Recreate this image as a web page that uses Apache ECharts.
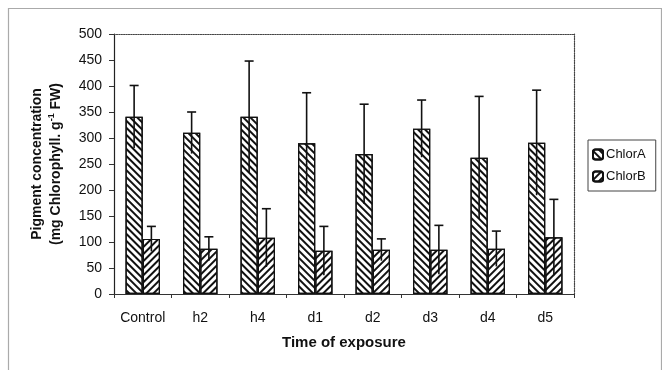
<!DOCTYPE html>
<html><head><meta charset="utf-8">
<script src="https://cdn.jsdelivr.net/npm/echarts@6/dist/echarts.min.js"></script>
<style>html,body{margin:0;padding:0;background:#fff}#c{width:662px;height:370px}</style>
</head><body><div id="c"></div>
<script>
const categories = ['Control','h2','h4','d1','d2','d3','d4','d5'];
const chlorA = [341, 310, 341, 290, 269, 318, 262, 291];
const chlorAErr = [60, 40, 107, 97, 96, 55, 118, 101];
const chlorB = [106, 87, 108, 83, 85, 85, 87, 109];
const chlorBErr = [24, 23, 56, 47, 21, 47, 34, 73];
const yTicks = [0, 50, 100, 150, 200, 250, 300, 350, 400, 450, 500];

const FONT = '"Liberation Sans", Arial, sans-serif';
const BAR_FRAC = 0.3;

function errSeries(vals, errs, side) {
  return {
    type: 'custom',
    z: 10,
    silent: true,
    data: vals.map((v, i) => [i, v - errs[i], v + errs[i]]),
    renderItem: function (params, api) {
      const band = api.size([1, 0])[0];
      const off = side * band * BAR_FRAC / 2;
      const lo = api.coord([api.value(0), api.value(1)]);
      const hi = api.coord([api.value(0), api.value(2)]);
      const x = lo[0] + off;
      const cap = 4.5;
      const st = { stroke: '#111', lineWidth: 1.6 };
      return {
        type: 'group',
        children: [
          { type: 'line', shape: { x1: x, y1: lo[1], x2: x, y2: hi[1] }, style: st },
          { type: 'line', shape: { x1: x - cap, y1: hi[1], x2: x + cap, y2: hi[1] }, style: st }
        ]
      };
    }
  };
}

const chart = echarts.init(document.getElementById('c'), null, { renderer: 'canvas' });
chart.setOption({
  animation: false,
  backgroundColor: '#fff',
  grid: { left: 114, right: 88, top: 34, bottom: 76 },
  graphic: [{
    type: 'rect', left: 6, top: 6, shape: { width: 653, height: 380 },
    style: { fill: 'none', stroke: '#aaa', lineWidth: 1.2 }, silent: true, z: -1
  }],
  legend: {
    orient: 'vertical', left: 588, top: 140, itemGap: 9,
    itemWidth: 10, itemHeight: 10,
    padding: [8, 10, 8, 4],
    borderColor: '#444', borderWidth: 1,
    textStyle: { fontFamily: FONT, fontSize: 13, color: '#111', padding: [0, 0, 0, -2] },
    data: ['ChlorA', 'ChlorB']
  },
  xAxis: [{
    type: 'category', data: categories,
    axisLine: { lineStyle: { color: '#333', width: 1 } },
    axisTick: { show: true, length: 4, interval: 0, lineStyle: { color: '#333' } },
    axisLabel: { fontFamily: FONT, fontSize: 14, color: '#111', margin: 17, interval: 0 },
    name: 'Time of exposure', nameLocation: 'middle', nameGap: 41,
    nameTextStyle: { fontFamily: FONT, fontSize: 15, fontWeight: 'bold', color: '#111' }
  }, {
    type: 'category', data: categories, position: 'top',
    axisLine: { show: true, onZero: false, lineStyle: { color: '#444', type: 'dotted', width: 1.2 } },
    axisTick: { show: false }, axisLabel: { show: false }
  }],
  yAxis: [{
    type: 'value', min: 0, max: 500, interval: 50,
    axisLine: { show: true, lineStyle: { color: '#222', width: 1.2 } },
    axisTick: { show: true, length: 5, lineStyle: { color: '#333' } },
    splitLine: { show: false },
    axisLabel: { fontFamily: FONT, fontSize: 14, color: '#111', margin: 12,
      formatter: v => yTicks.includes(v) ? String(v) : '' },
    name: '{b|Pigment concentration}\n{b|(mg Chlorophyll. g}{s|-1}{b| FW)}',
    nameLocation: 'middle', nameGap: 48, nameRotate: 90,
    nameTextStyle: {
      fontFamily: FONT, fontSize: 14, color: '#111', lineHeight: 19,
      rich: {
        b: { fontFamily: FONT, fontSize: 14, fontWeight: 'bold', color: '#111', lineHeight: 19 },
        s: { fontFamily: FONT, fontSize: 9, fontWeight: 'bold', color: '#111', verticalAlign: 'top', lineHeight: 12 }
      }
    }
  }, {
    type: 'value', min: 0, max: 500, interval: 50, position: 'right',
    axisLine: { show: true, onZero: false, lineStyle: { color: '#444', type: 'dotted', width: 1.2 } },
    axisTick: { show: false }, axisLabel: { show: false }, splitLine: { show: false }
  }],
  series: [{
    name: 'ChlorA', type: 'bar', data: chlorA,
    barWidth: '30%', barGap: '0%',
    itemStyle: {
      color: '#fff', borderColor: '#111', borderWidth: 1.2,
      decal: { symbol: 'rect', symbolSize: 1, color: '#111', rotation: Math.PI / 4,
        dashArrayX: [[1, 0]], dashArrayY: [1.3, 2.2] }
    }
  }, {
    name: 'ChlorB', type: 'bar', data: chlorB,
    barWidth: '30%', barGap: '0%',
    itemStyle: {
      color: '#fff', borderColor: '#111', borderWidth: 1.2,
      decal: { symbol: 'rect', symbolSize: 1, color: '#111', rotation: -Math.PI / 4,
        dashArrayX: [[1, 0]], dashArrayY: [1.3, 2.2] }
    }
  },
  errSeries(chlorA, chlorAErr, -1),
  errSeries(chlorB, chlorBErr, 1)
  ]
});
</script>
</body></html>
